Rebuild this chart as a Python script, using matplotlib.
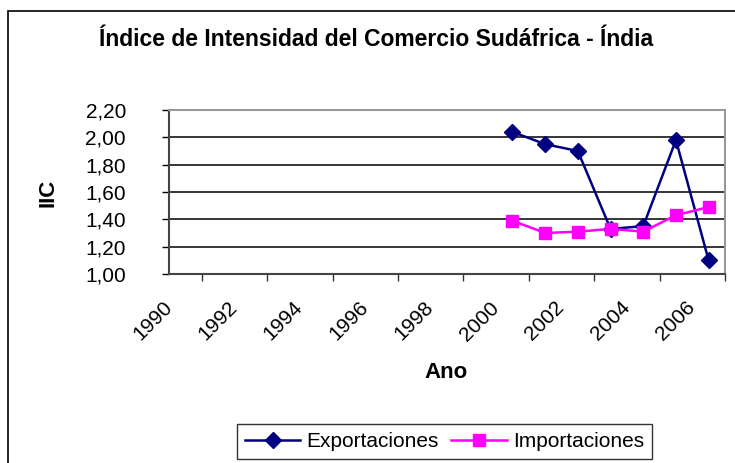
import numpy as np
import matplotlib
matplotlib.use('Agg')
import matplotlib.pyplot as plt
from matplotlib.patches import Rectangle
from matplotlib.ticker import FixedLocator, FuncFormatter

plt.rcParams['font.family'] = ['Liberation Sans', 'DejaVu Sans']

# category axis 1990..2006, values only from 2000 on
years = list(range(1990, 2007))
data_years = [2000, 2001, 2002, 2003, 2004, 2005, 2006]
exportaciones = [2.04, 1.95, 1.90, 1.33, 1.35, 1.98, 1.10]
importaciones = [1.39, 1.30, 1.31, 1.33, 1.31, 1.43, 1.49]
tick_years = years[::2]

fig = plt.figure(figsize=(7.35, 4.63), dpi=100)
ax = fig.add_axes([169/735, 189/463, 556/735, 164/463])

# outer chart frame
fig.patches.append(Rectangle((8/735, -0.1), 1.2, 1.1 - 11/463, transform=fig.transFigure,
                             fill=False, edgecolor='black', linewidth=1.2))

xe = [years.index(y) for y in data_years]
ax.plot(xe, exportaciones, color='#000080', marker='D', markersize=8, linewidth=1.8,
        label='Exportaciones')
ax.plot(xe, importaciones, color='#FF00FF', marker='s', markersize=8.5, linewidth=1.8,
        label='Importaciones')

ax.set_xlim(-0.5, len(years) - 0.5)
ax.set_ylim(1.0, 2.2)
ax.set_yticks(np.arange(1.0, 2.21, 0.2))
ax.yaxis.set_major_formatter(FuncFormatter(lambda v, p: ('%.2f' % v).replace('.', ',')))
ax.grid(axis='y', color='black', linewidth=1.1)
ax.set_axisbelow(True)

# year labels sit at the left edge of their category slot
ax.set_xticks([years.index(y) - 0.5 for y in tick_years])
ax.set_xticklabels([str(y) for y in tick_years], rotation=45, ha='right', va='center',
                   rotation_mode='anchor')
ax.xaxis.set_minor_locator(FixedLocator(np.arange(-0.5, len(years), 1.0)))
ax.tick_params(axis='x', which='major', length=0, pad=22, labelsize=15)
ax.tick_params(axis='x', which='minor', length=5, width=1, color='#333333')
ax.tick_params(axis='y', length=5, width=1, labelsize=15, pad=26)

for side in ['top', 'right']:
    ax.spines[side].set_color('#999999')
    ax.spines[side].set_linewidth(1.5)
for side in ['left', 'bottom']:
    ax.spines[side].set_color('#444444')
    ax.spines[side].set_linewidth(1.5)

fig.text(376/735, 1 - 39/463, 'Índice de Intensidad del Comercio Sudáfrica - Índia',
         ha='center', va='center', fontsize=16.5, fontweight='bold')
fig.text(48/735, 1 - 193/463, 'IIC', ha='center', va='center', rotation=90,
         fontsize=16, fontweight='bold')
fig.text(446/735, 1 - 373/463, 'Ano', ha='center', va='center', fontsize=16, fontweight='bold')

leg = fig.legend(loc='center', bbox_to_anchor=(444.5/735, 1 - 441.5/463), ncol=2, fontsize=15,
                 frameon=True, fancybox=False, edgecolor='black', handlelength=2.65,
                 columnspacing=0.6, handletextpad=0.3, borderpad=0.4, borderaxespad=0)
leg.get_frame().set_linewidth(1.0)

fig.savefig('out.png', dpi=100)
